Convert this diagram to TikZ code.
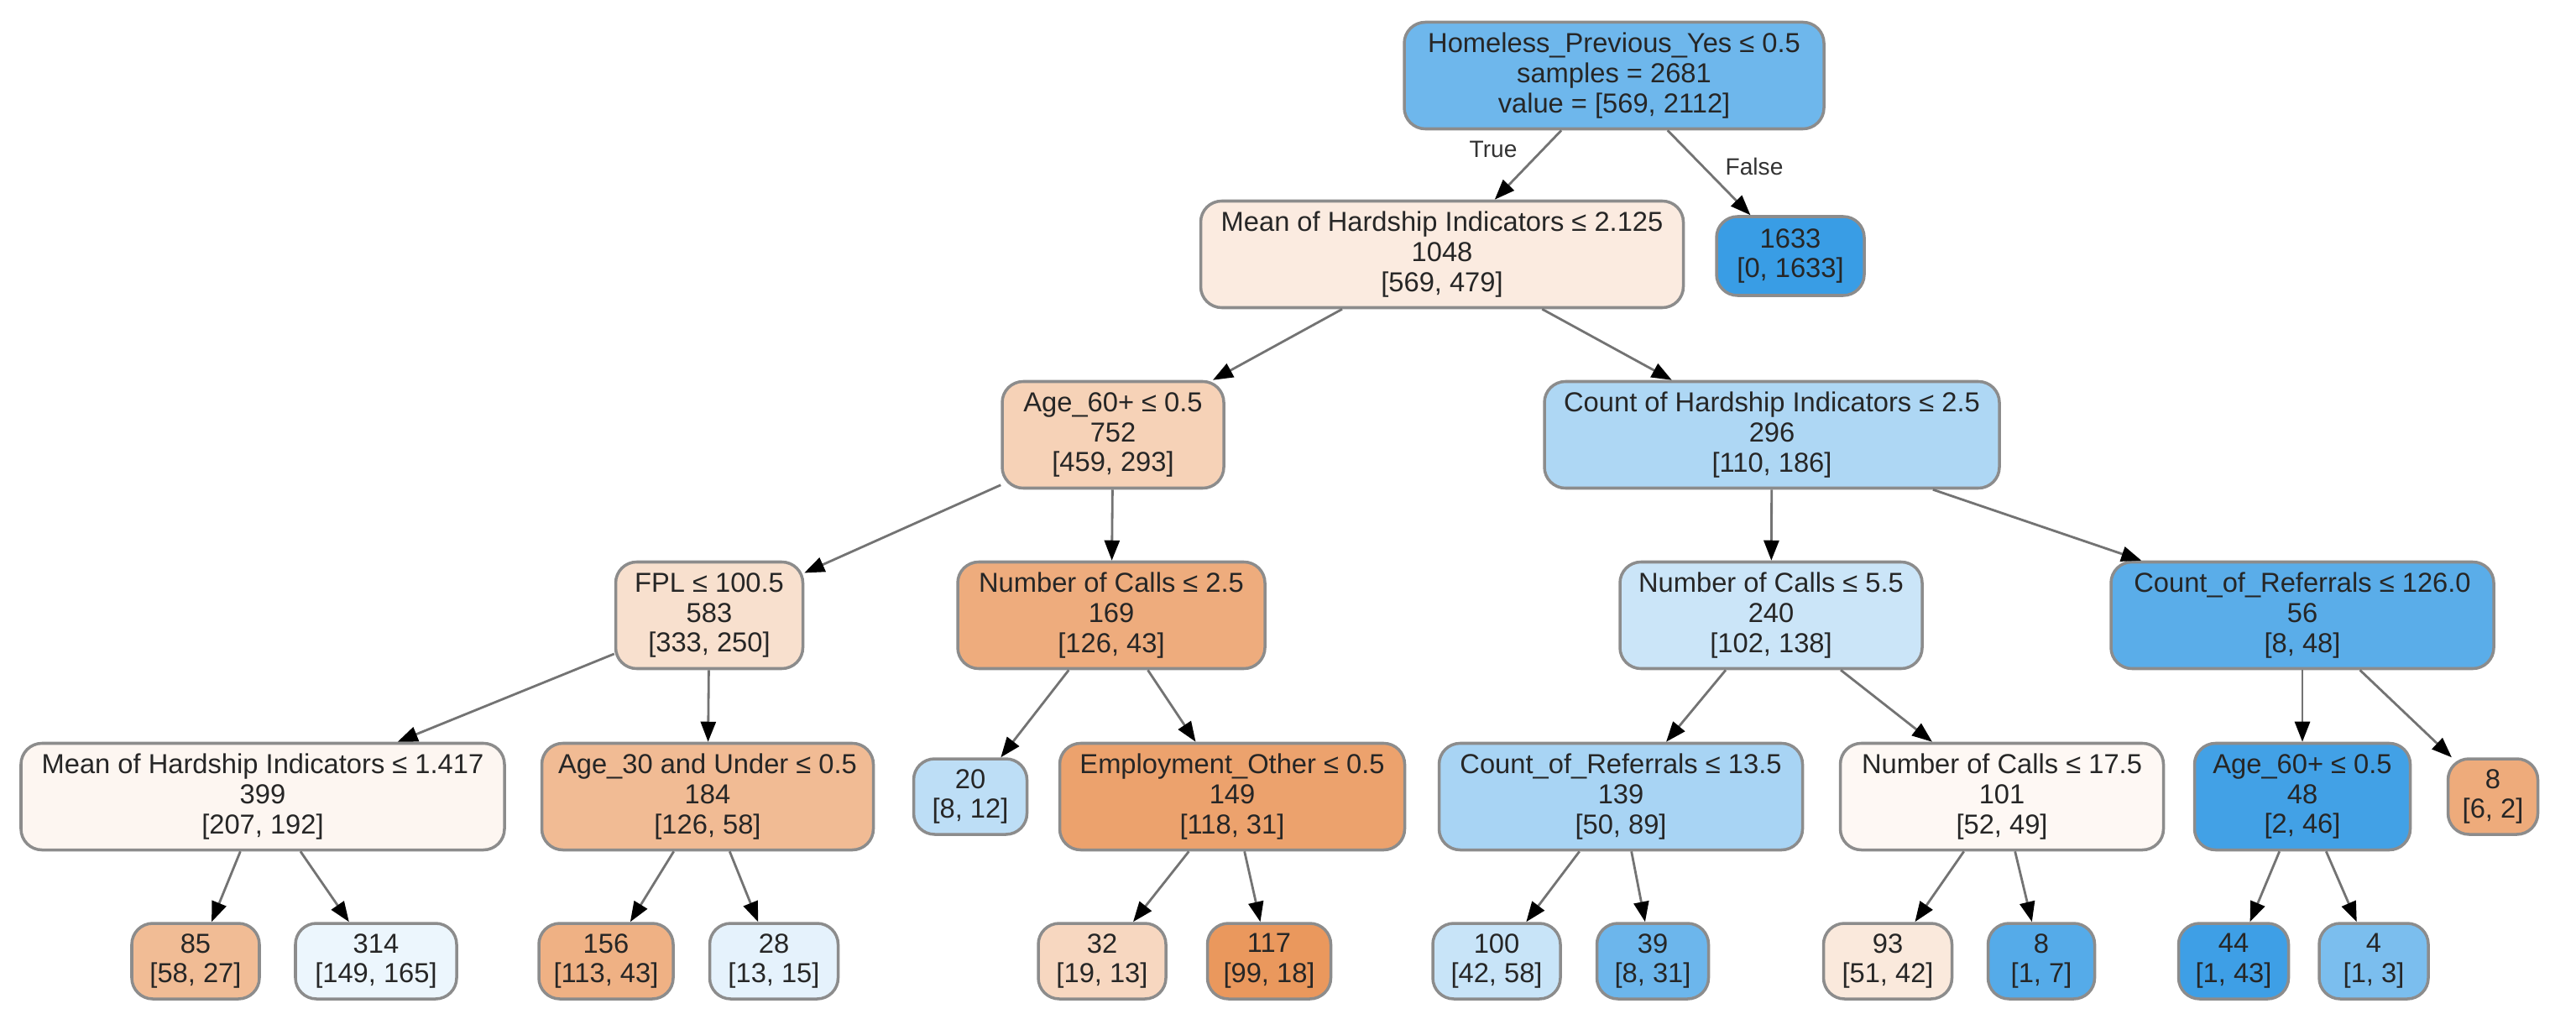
\documentclass[tikz,border=0pt]{standalone}
\usepackage{fontspec}
\setmainfont{Liberation Sans}
\usetikzlibrary{arrows.meta}
% node fills (class colour by purity)
\definecolor{cRoot}{HTML}{6EB7EC}
\definecolor{cMeanA}{HTML}{FBEBE0}
\definecolor{cLeafA}{HTML}{399DE5}
\definecolor{cAgeA}{HTML}{F6D2B7}
\definecolor{cCount}{HTML}{AED7F4}
\definecolor{cFpl}{HTML}{F8E0CE}
\definecolor{cCallsA}{HTML}{EEAC7D}
\definecolor{cCallsB}{HTML}{CBE5F8}
\definecolor{cRefA}{HTML}{5AADE9}
\definecolor{cMeanB}{HTML}{FDF6F1}
\definecolor{cAgeT}{HTML}{F1BB94}
\definecolor{cLeafB}{HTML}{BDDEF6}
\definecolor{cEmploy}{HTML}{ECA26D}
\definecolor{cRefB}{HTML}{A8D4F4}
\definecolor{cCallsC}{HTML}{FEF8F4}
\definecolor{cAgeB}{HTML}{42A1E6}
\definecolor{cLeafC}{HTML}{EEAB7B}
\definecolor{cL85}{HTML}{F1BC95}
\definecolor{cL314}{HTML}{ECF6FD}
\definecolor{cL156}{HTML}{EFB184}
\definecolor{cL28}{HTML}{E5F2FC}
\definecolor{cL32}{HTML}{F7D7C0}
\definecolor{cL117}{HTML}{EA985D}
\definecolor{cL100}{HTML}{C8E4F8}
\definecolor{cL39}{HTML}{6CB6EC}
\definecolor{cL93}{HTML}{FAE9DC}
\definecolor{cL8}{HTML}{55ABE9}
\definecolor{cL44}{HTML}{3E9FE6}
\definecolor{cL4}{HTML}{7BBEEE}
\begin{document}
\begin{tikzpicture}[
    box/.style={draw=black!45, line width=1pt, rounded corners=2.5mm, inner sep=0pt,
        align=center, text=black!85, font=\fontsize{9.3}{10.2}\selectfont, minimum height=1.27cm},
    leaf/.style={box, minimum height=0.9cm},
    edge/.style={draw=black!55, line width=0.8pt, -{Triangle[color=black, length=2.4mm, width=1.8mm]}},
    lbl/.style={text=black!80, font=\fontsize{8}{9}\selectfont}
]
    % Draw white page
    \path[fill=white, use as bounding box] (0,0) rectangle (30.69,-12.33);
    % Draw root and first split
    \node[box, fill=cRoot, minimum width=5cm] (root) at (19.23,-0.90)
        {Homeless\_Previous\_Yes ≤ 0.5\\samples = 2681\\value = [569, 2112]};
    \node[box, fill=cMeanA, minimum width=5.75cm] (meanA) at (17.18,-3.03)
        {Mean of Hardship Indicators ≤ 2.125\\1048\\{[569, 479]}};
    \node[leaf, fill=cLeafA, minimum width=1.76cm, minimum height=0.94cm] (leafA) at (21.33,-3.05)
        {1633\\{[0, 1633]}};
    % Draw third level
    \node[box, fill=cAgeA, minimum width=2.64cm] (ageA) at (13.26,-5.18)
        {Age\_60+ ≤ 0.5\\752\\{[459, 293]}};
    \node[box, fill=cCount, minimum width=5.42cm] (count) at (21.11,-5.18)
        {Count of Hardship Indicators ≤ 2.5\\296\\{[110, 186]}};
    % Draw fourth level
    \node[box, fill=cFpl, minimum width=2.23cm] (fpl) at (8.45,-7.33)
        {FPL ≤ 100.5\\583\\{[333, 250]}};
    \node[box, fill=cCallsA, minimum width=3.66cm] (callsA) at (13.24,-7.33)
        {Number of Calls ≤ 2.5\\169\\{[126, 43]}};
    \node[box, fill=cCallsB, minimum width=3.60cm] (callsB) at (21.10,-7.33)
        {Number of Calls ≤ 5.5\\240\\{[102, 138]}};
    \node[box, fill=cRefA, minimum width=4.56cm] (refA) at (27.43,-7.33)
        {Count\_of\_Referrals ≤ 126.0\\56\\{[8, 48]}};
    % Draw fifth level
    \node[box, fill=cMeanB, minimum width=5.76cm] (meanB) at (3.13,-9.49)
        {Mean of Hardship Indicators ≤ 1.417\\399\\{[207, 192]}};
    \node[box, fill=cAgeT, minimum width=3.95cm] (ageT) at (8.43,-9.49)
        {Age\_30 and Under ≤ 0.5\\184\\{[126, 58]}};
    \node[leaf, fill=cLeafB, minimum width=1.35cm] (leafB) at (11.56,-9.49)
        {20\\{[8, 12]}};
    \node[box, fill=cEmploy, minimum width=4.11cm] (employ) at (14.68,-9.49)
        {Employment\_Other ≤ 0.5\\149\\{[118, 31]}};
    \node[box, fill=cRefB, minimum width=4.33cm] (refB) at (19.31,-9.49)
        {Count\_of\_Referrals ≤ 13.5\\139\\{[50, 89]}};
    \node[box, fill=cCallsC, minimum width=3.85cm] (callsC) at (23.85,-9.49)
        {Number of Calls ≤ 17.5\\101\\{[52, 49]}};
    \node[box, fill=cAgeB, minimum width=2.57cm] (ageB) at (27.43,-9.49)
        {Age\_60+ ≤ 0.5\\48\\{[2, 46]}};
    \node[leaf, fill=cLeafC, minimum width=1.07cm] (leafC) at (29.70,-9.49)
        {8\\{[6, 2]}};
    % Draw bottom leaves
    \node[leaf, fill=cL85, minimum width=1.52cm] (l85) at (2.33,-11.45) {85\\{[58, 27]}};
    \node[leaf, fill=cL314, minimum width=1.92cm] (l314) at (4.48,-11.45) {314\\{[149, 165]}};
    \node[leaf, fill=cL156, minimum width=1.60cm] (l156) at (7.22,-11.45) {156\\{[113, 43]}};
    \node[leaf, fill=cL28, minimum width=1.53cm] (l28) at (9.22,-11.45) {28\\{[13, 15]}};
    \node[leaf, fill=cL32, minimum width=1.52cm] (l32) at (13.13,-11.45) {32\\{[19, 13]}};
    \node[leaf, fill=cL117, minimum width=1.47cm] (l117) at (15.12,-11.45) {117\\{[99, 18]}};
    \node[leaf, fill=cL100, minimum width=1.52cm] (l100) at (17.83,-11.45) {100\\{[42, 58]}};
    \node[leaf, fill=cL39, minimum width=1.33cm] (l39) at (19.69,-11.45) {39\\{[8, 31]}};
    \node[leaf, fill=cL93, minimum width=1.53cm] (l93) at (22.49,-11.45) {93\\{[51, 42]}};
    \node[leaf, fill=cL8, minimum width=1.27cm] (l8) at (24.32,-11.45) {8\\{[1, 7]}};
    \node[leaf, fill=cL44, minimum width=1.31cm] (l44) at (26.61,-11.45) {44\\{[1, 43]}};
    \node[leaf, fill=cL4, minimum width=1.30cm] (l4) at (28.28,-11.45) {4\\{[1, 3]}};
    % Draw branch labels
    \node[lbl] (truelbl) at (17.79,-1.78) {True};
    \node[lbl] (falselbl) at (20.90,-1.98) {False};
    % Draw edges
    \draw[edge] (root) -- (meanA);
    \draw[edge] (root) -- (leafA);
    \draw[edge] (meanA) -- (ageA);
    \draw[edge] (meanA) -- (count);
    \draw[edge] (ageA) -- (fpl);
    \draw[edge] (ageA) -- (callsA);
    \draw[edge] (count) -- (callsB);
    \draw[edge] (count) -- (refA);
    \draw[edge] (fpl) -- (meanB);
    \draw[edge] (fpl) -- (ageT);
    \draw[edge] (callsA) -- (leafB);
    \draw[edge] (callsA) -- (employ);
    \draw[edge] (callsB) -- (refB);
    \draw[edge] (callsB) -- (callsC);
    \draw[edge] (refA) -- (ageB);
    \draw[edge] (refA) -- (leafC);
    \draw[edge] (meanB) -- (l85);
    \draw[edge] (meanB) -- (l314);
    \draw[edge] (ageT) -- (l156);
    \draw[edge] (ageT) -- (l28);
    \draw[edge] (employ) -- (l32);
    \draw[edge] (employ) -- (l117);
    \draw[edge] (refB) -- (l100);
    \draw[edge] (refB) -- (l39);
    \draw[edge] (callsC) -- (l93);
    \draw[edge] (callsC) -- (l8);
    \draw[edge] (ageB) -- (l44);
    \draw[edge] (ageB) -- (l4);
\end{tikzpicture}
\end{document}
